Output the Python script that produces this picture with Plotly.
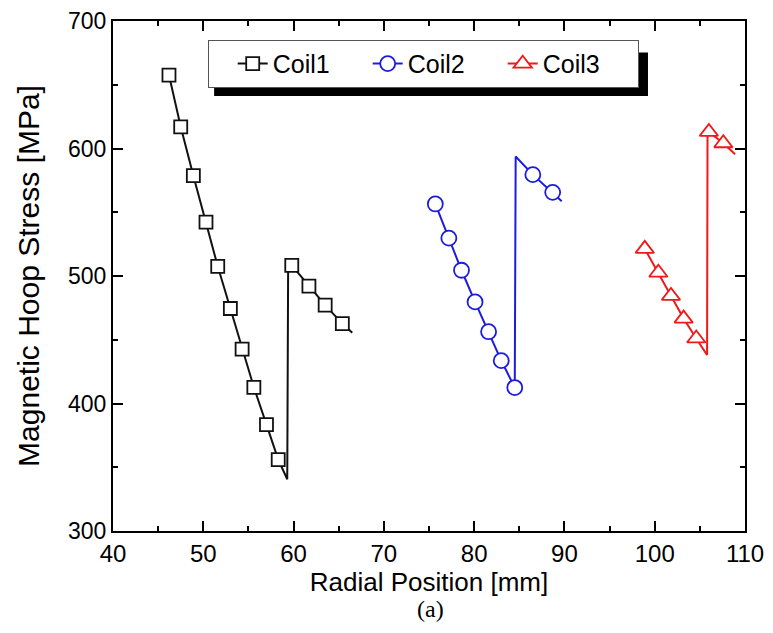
import plotly.graph_objects as go

# ---------------- data ----------------
coil_names = ["Coil1", "Coil2", "Coil3"]

# Coil1: line path (including the unmarked vertices at the jump) and marked points
coil1_line_x = [46.2, 47.5, 48.9, 50.3, 51.6, 53.0, 54.3, 55.6, 57.0, 58.3, 59.3, 59.4, 59.8, 61.7, 63.5, 65.4, 66.5]
coil1_line_y = [657.6, 617.0, 578.7, 542.2, 507.6, 474.5, 442.7, 412.7, 383.4, 356.0, 340.6, 509.4, 508.4, 492.0, 477.1, 462.7, 455.5]
coil1_mark_x = [46.2, 47.5, 48.9, 50.3, 51.6, 53.0, 54.3, 55.6, 57.0, 58.3, 59.8, 61.7, 63.5, 65.4]
coil1_mark_y = [657.6, 617.0, 578.7, 542.2, 507.6, 474.5, 442.7, 412.7, 383.4, 356.0, 508.4, 492.0, 477.1, 462.7]

# Coil2
coil2_line_x = [75.7, 77.2, 78.6, 80.1, 81.6, 83.0, 84.5, 84.6, 86.5, 88.7, 89.7]
coil2_line_y = [556.5, 529.7, 504.5, 479.7, 456.3, 433.6, 412.5, 593.7, 579.5, 565.6, 558.6]
coil2_mark_x = [75.7, 77.2, 78.6, 80.1, 81.6, 83.0, 84.5, 86.5, 88.7]
coil2_mark_y = [556.5, 529.7, 504.5, 479.7, 456.3, 433.6, 412.5, 579.5, 565.6]

# Coil3
coil3_line_x = [98.9, 100.4, 101.8, 103.2, 104.6, 105.8, 105.85, 106.0, 107.6, 108.9]
coil3_line_y = [521.3, 502.6, 484.4, 466.6, 451.0, 438.0, 614.0, 613.0, 604.1, 595.5]
coil3_mark_x = [98.9, 100.4, 101.8, 103.2, 104.6, 106.0, 107.6]
coil3_mark_y = [521.3, 502.6, 484.4, 466.6, 451.0, 613.0, 604.1]

x_ticks = [40, 50, 60, 70, 80, 90, 100, 110]
y_ticks = [300, 400, 500, 600, 700]

# ---------------- styling ----------------
colors = ["#111111", "#1c1ce0", "#f01818"]
symbols = ["square", "circle", "triangle-up"]
sizes = [13, 15, 16]
FONT = "Liberation Sans, Arial, sans-serif"

lines = [(coil1_line_x, coil1_line_y), (coil2_line_x, coil2_line_y), (coil3_line_x, coil3_line_y)]
marks = [(coil1_mark_x, coil1_mark_y), (coil2_mark_x, coil2_mark_y), (coil3_mark_x, coil3_mark_y)]

fig = go.Figure()
for i, name in enumerate(coil_names):
    lx, ly = lines[i]
    mx, my = marks[i]
    fig.add_trace(go.Scatter(x=lx, y=ly, mode="lines", showlegend=False,
                             line=dict(color=colors[i], width=2), hoverinfo="skip"))
    fig.add_trace(go.Scatter(x=mx, y=my, mode="markers", showlegend=False, name=name,
                             marker=dict(symbol=symbols[i], size=sizes[i], color="white",
                                         line=dict(color=colors[i], width=1.8))))
# legend entries
for i, name in enumerate(coil_names):
    fig.add_trace(go.Scatter(x=[None], y=[None], mode="lines+markers", name=name,
                             line=dict(color=colors[i], width=2),
                             marker=dict(symbol=symbols[i], size=sizes[i], color="white",
                                         line=dict(color=colors[i], width=1.8))))

axis_common = dict(showline=True, linecolor="black", linewidth=2, mirror="ticks",
                   ticks="inside", ticklen=10, tickwidth=1.5, tickcolor="black",
                   showgrid=False, zeroline=False, automargin=False,
                   ticklabeloverflow="allow")

fig.update_xaxes(range=[40, 110], tickvals=x_ticks, ticktext=[str(v) for v in x_ticks],
                 tickfont=dict(family=FONT, size=24, color="black"),
                 minor=dict(ticks="inside", ticklen=5, tickwidth=1.5, tickcolor="black", dtick=5, tick0=40),
                 title=dict(text="Radial Position [mm]", font=dict(family=FONT, size=26, color="black"), standoff=0),
                 **axis_common)
fig.update_yaxes(range=[300, 700], tickvals=y_ticks, ticktext=[str(v) for v in y_ticks],
                 tickfont=dict(family=FONT, size=23, color="black"),
                 minor=dict(ticks="inside", ticklen=5, tickwidth=1.5, tickcolor="black", dtick=50, tick0=300),
                 title=dict(text="Magnetic Hoop Stress [MPa]", font=dict(family=FONT, size=30, color="black"), standoff=20),
                 **axis_common)

# legend shadow (offset black box behind the legend)
fig.add_shape(type="rect", xref="paper", yref="paper", x0=0.16, x1=0.8465, y0=0.8530, y1=0.9380,
              fillcolor="black", line=dict(width=0), layer="above")

fig.add_annotation(text="(a)", xref="paper", yref="paper", x=0.5016, y=-0.153,
                   xanchor="center", yanchor="middle", showarrow=False,
                   font=dict(family="Liberation Serif, Times New Roman, serif", size=24, color="black"))

fig.update_layout(
    width=773, height=633,
    margin=dict(l=105, r=36, t=13, b=110),
    paper_bgcolor="white", plot_bgcolor="white",
    showlegend=True,
    legend=dict(orientation="h", x=0.150, y=0.963, xanchor="left", yanchor="top",
                bgcolor="white", bordercolor="#555555", borderwidth=1,
                font=dict(family=FONT, size=25, color="black"),
                title=dict(text="&nbsp;&nbsp;", side="left", font=dict(family=FONT, size=25)),
                entrywidth=90, entrywidthmode="pixels",
                tracegroupgap=0),
)

fig.write_html("out.html")
